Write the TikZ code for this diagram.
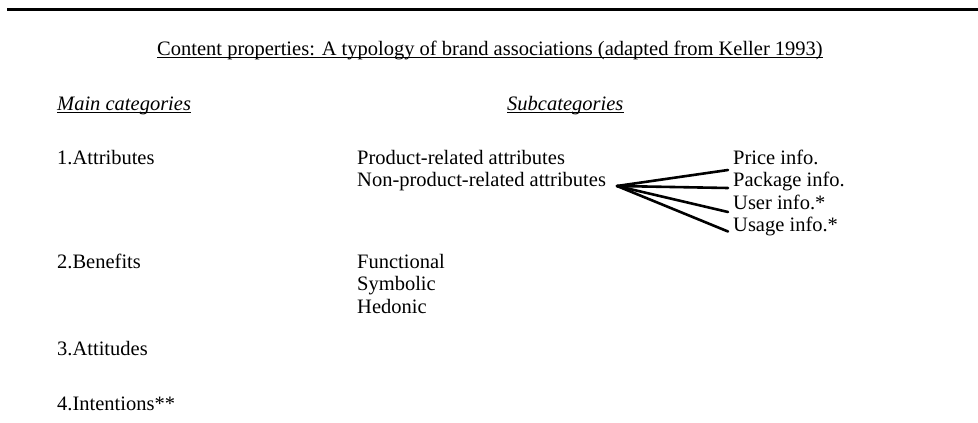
\documentclass[tikz,border=0pt]{standalone}
\usepackage{fontspec}
\setmainfont{Liberation Serif}
\begin{document}
\begin{tikzpicture}[x=1pt,y=-1pt,
  txt/.style={inner sep=0pt, anchor=base west, font=\fontsize{20.5}{24}\selectfont},
  head/.style={txt, font=\fontsize{20.5}{24}\selectfont\itshape},
  uline/.style={line width=1.1pt},
  fanline/.style={line width=2.6pt, line cap=round}]
\useasboundingbox (0,0) rectangle (978,423);

% top rule
\coordinate (ruleL) at (7,9);
\coordinate (ruleR) at (978,9);
\draw[line width=3pt] (ruleL) -- (ruleR);

% title
\node[txt, anchor=base] (title) at (490,55) {Content properties: A typology of brand associations (adapted from Keller 1993)};
\draw[uline] ([yshift=-2.5pt]title.base west) -- ([yshift=-2.5pt]title.base east);

% column headings
\node[head] (hmain) at (57,110) {Main categories};
\draw[uline] ([yshift=-2.5pt]hmain.base west) -- ([yshift=-2.5pt]hmain.base east);
\node[head] (hsub) at (507,110) {Subcategories};
\draw[uline] ([yshift=-2.5pt]hsub.base west) -- ([yshift=-2.5pt]hsub.base east);

% main categories
\node[txt] (attr) at (57,164) {1.Attributes};
\node[txt] (bene) at (57,268) {2.Benefits};
\node[txt] (atti) at (57,355) {3.Attitudes};
\node[txt] (inte) at (57,410) {4.Intentions**};

% subcategories
\node[txt] (prod) at (357,164) {Product-related attributes};
\node[txt] (nonprod) at (357,186.5) {Non-product-related attributes};
\node[txt] (func) at (357,268) {Functional};
\node[txt] (symb) at (357,290.5) {Symbolic};
\node[txt] (hedo) at (357,313) {Hedonic};

% non-product-related attribute types
\node[txt] (price) at (733,164) {Price info.};
\node[txt] (pack) at (733,186.5) {Package info.};
\node[txt] (user) at (733,209) {User info.*};
\node[txt] (usage) at (733,231.5) {Usage info.*};

% fan from non-product-related attributes
\coordinate (fan) at (617,186);
\draw[fanline] (fan) -- ([xshift=-5pt,yshift=-6pt]price.base west);
\draw[fanline] (fan) -- ([xshift=-5pt,yshift=-1.5pt]pack.base west);
\draw[fanline] (fan) -- ([xshift=-5pt,yshift=-3pt]user.base west);
\draw[fanline] (fan) -- ([xshift=-5pt,yshift=0pt]usage.base west);
\end{tikzpicture}
\end{document}
